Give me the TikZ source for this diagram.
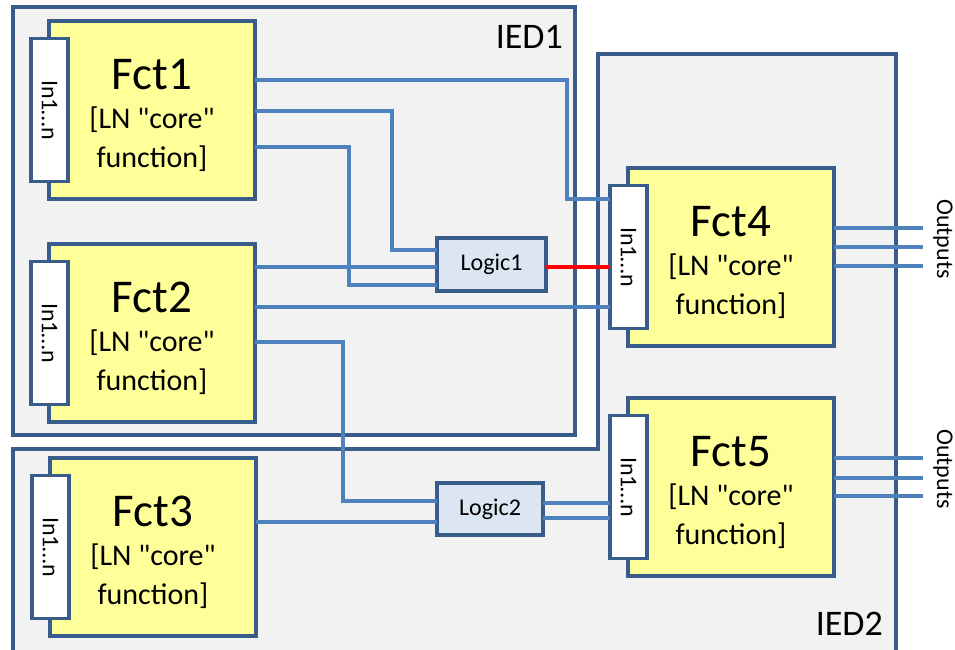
\documentclass[tikz,border=0pt]{standalone}
\usepackage{fontspec}
\setmainfont{Carlito}[Ligatures=TeXOff]
\usepackage{graphicx}
\definecolor{edgeblue}{HTML}{385D8A}
\definecolor{connblue}{HTML}{4F81BD}
\definecolor{iedgray}{HTML}{F2F2F2}
\definecolor{fctyellow}{HTML}{FFFF99}
\definecolor{logicblue}{HTML}{DCE6F2}
\definecolor{linkred}{HTML}{FF0000}
\newcommand\fctblock[5]{%
  \node[fctbox] (#1) at (#4,#5+89) {};
  \node[fcttitle, anchor=base] (#1t) at (#4,#5+68) {#3};
  \node[fctsub, anchor=base] (#1s) at (#4,#5+107) {[LN "core"};
  \node[fctsub, anchor=base] (#1u) at (#4,#5+146) {function]};
  \node[inbox] (#2) at (#4-102.5,#5+89) {\rotatebox{-90}{In1…n}};
}
\begin{document}
\begin{tikzpicture}[x=1pt,y=-1pt,
  ied/.style={fill=iedgray, draw=edgeblue, line width=3.4pt},
  fctbox/.style={draw=edgeblue, fill=fctyellow, line width=3.4pt, minimum width=206pt, minimum height=178pt, inner sep=0pt, outer sep=0pt},
  fcttitle/.style={inner sep=0pt, font=\fontsize{47}{47}\selectfont},
  fctsub/.style={inner sep=0pt, font=\fontsize{30}{30}\selectfont},
  inbox/.style={draw=edgeblue, fill=white, line width=3.4pt, minimum width=37pt, minimum height=143pt, inner sep=0pt, outer sep=0pt, font=\fontsize{24}{24}\selectfont},
  logicbox/.style={draw=edgeblue, fill=logicblue, line width=3.4pt, inner sep=0pt, outer sep=0pt, font=\fontsize{24}{24}\selectfont},
  conn/.style={draw=connblue, line width=3.2pt},
  redconn/.style={draw=linkred, line width=3.2pt},
  iedlabel/.style={inner sep=0pt, font=\fontsize{36}{36}\selectfont},
  outlabel/.style={inner sep=0pt, rotate=-90, font=\fontsize{24}{24}\selectfont}
]
\useasboundingbox (0,0) rectangle (955,649);
% IED backgrounds
\path[ied] (13,7) rectangle (575,435);
\path[ied] (13,660) -- (13,449) -- (598,449) -- (598,54) -- (896,54) -- (896,660);
\node[iedlabel, anchor=base east] (ied1) at (563,48) {IED1};
\node[iedlabel, anchor=base east] (ied2) at (883,635) {IED2};
% blocks
\fctblock{f1}{i1}{Fct1}{152}{21}
\fctblock{f2}{i2}{Fct2}{152}{244}
\fctblock{f3}{i3}{Fct3}{153}{458}
\fctblock{f4}{i4}{Fct4}{731}{168}
\fctblock{f5}{i5}{Fct5}{731}{398}
\node[logicbox, minimum width=109pt, minimum height=53pt] (l1) at (491.5,264.5) {Logic1};
\node[logicbox, minimum width=106pt, minimum height=52pt] (l2) at (490,509) {Logic2};
% connectors
\draw[conn] (f1.east |- 0,80) -- (567,80) |- (i4.west |- 0,199);
\draw[conn] (f1.east |- 0,111) -| (392,250) -- (l1.west |- 0,250);
\draw[conn] (f1.east |- 0,147) -| (349,285) -- (l1.west |- 0,285);
\draw[conn] (f2.east |- 0,267) -- (l1.west |- 0,267);
\draw[conn] (f2.east |- 0,307) -- (i4.west |- 0,307);
\draw[conn] (f2.east |- 0,342) -| (343,501) -- (l2.west |- 0,501);
\draw[conn] (f3.east |- 0,522) -- (l2.west |- 0,522);
\draw[redconn] (l1.east |- 0,267) -- (i4.west |- 0,267);
\draw[conn] (l2.east |- 0,503) -- (i5.west |- 0,503);
\draw[conn] (l2.east |- 0,518) -- (i5.west |- 0,518);
% outputs
\coordinate (o4a) at (923,228);
\coordinate (o4b) at (923,247);
\coordinate (o4c) at (923,266);
\coordinate (o5a) at (923,458);
\coordinate (o5b) at (923,478);
\coordinate (o5c) at (923,496);
\draw[conn] (f4.east |- o4a) -- (o4a);
\draw[conn] (f4.east |- o4b) -- (o4b);
\draw[conn] (f4.east |- o4c) -- (o4c);
\draw[conn] (f5.east |- o5a) -- (o5a);
\draw[conn] (f5.east |- o5b) -- (o5b);
\draw[conn] (f5.east |- o5c) -- (o5c);
\node[outlabel] (out4) at (943,239) {Outputs};
\node[outlabel] (out5) at (943,469) {Outputs};
\end{tikzpicture}
\end{document}
